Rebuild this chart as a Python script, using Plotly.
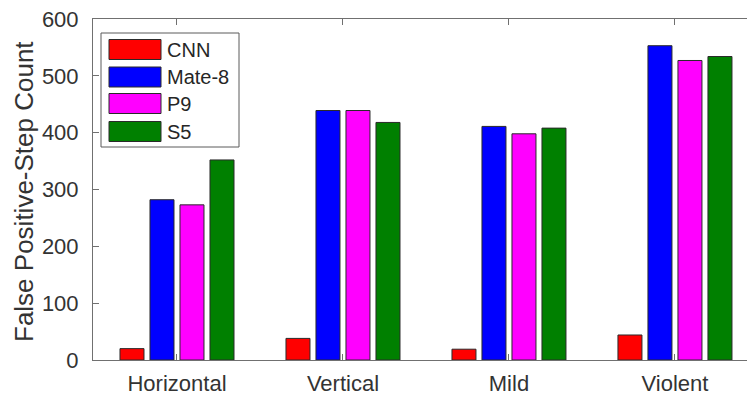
import plotly.graph_objects as go

categories = ["Horizontal", "Vertical", "Mild", "Violent"]
series_names = ["CNN", "Mate-8", "P9", "S5"]
cnn = [20, 38, 19, 44]
mate8 = [282, 439, 411, 553]
p9 = [273, 439, 398, 527]
s5 = [352, 418, 408, 534]
y_ticks = [0, 100, 200, 300, 400, 500, 600]
y_title = "False Positive-Step Count"
colors = ["#FF0000", "#0000FF", "#FF00FF", "#008000"]

series_values = [cnn, mate8, p9, s5]

fig = go.Figure()
for name, vals, col in zip(series_names, series_values, colors):
    fig.add_trace(go.Bar(
        x=categories, y=vals, name=name,
        marker=dict(color=col, line=dict(color="#2a2a2a", width=1)),
        showlegend=False, hoverinfo="skip",
    ))

W, H = 747, 396
L, R, T, B = 93, 0, 19, 36
pw, ph = W - L - R, H - T - B

def px(x):
    return (x - L) / pw

def py(y):
    return (H - B - y) / ph

# custom legend (MATLAB style)
shapes = [dict(type="rect", xref="paper", yref="paper",
               x0=px(101), x1=px(239), y0=py(147), y1=py(33),
               line=dict(color="#5a5a5a", width=1), fillcolor="white", layer="above")]
annotations = []
centers = [49.5, 77, 103.5, 131.5]
for name, col, cy in zip(series_names, colors, centers):
    shapes.append(dict(type="rect", xref="paper", yref="paper",
                       x0=px(109), x1=px(161), y0=py(cy + 10), y1=py(cy - 10),
                       line=dict(color="#2a2a2a", width=1), fillcolor=col, layer="above"))
    annotations.append(dict(xref="paper", yref="paper", x=px(165), y=py(cy),
                            text=name, showarrow=False, xanchor="left", yanchor="middle",
                            font=dict(family="Liberation Sans, Arial", size=20, color="#262626")))

# y-axis title
annotations.append(dict(xref="paper", yref="paper", x=px(24), y=py(192),
                        text=y_title, showarrow=False, textangle=-90,
                        xanchor="center", yanchor="middle",
                        font=dict(family="Liberation Sans, Arial", size=26, color="#333333")))

fig.update_layout(
    width=W, height=H,
    margin=dict(l=L, r=R, t=T, b=B, pad=0, autoexpand=False),
    paper_bgcolor="white", plot_bgcolor="white",
    barmode="group", bargap=0.277, bargroupgap=0.2,
    font=dict(family="Liberation Sans, Arial", size=22, color="#333333"),
    shapes=shapes, annotations=annotations,
    xaxis=dict(
        type="category", range=[-0.506, 3.434],
        showline=True, linecolor="#707070", linewidth=1, mirror="ticks",
        ticks="inside", ticklen=6, tickcolor="#707070",
        showgrid=False, zeroline=False, automargin=False,
        tickfont=dict(size=22, color="#333333"),
        ticklabelstandoff=4,
    ),
    yaxis=dict(
        range=[0, 600], tickvals=y_ticks,
        showline=True, linecolor="#707070", linewidth=1, mirror=False,
        ticks="inside", ticklen=6, tickcolor="#707070",
        showgrid=False, zeroline=False, automargin=False,
        tickfont=dict(size=22, color="#333333"),
        ticklabelstandoff=9,
    ),
)

fig.write_html("out.html", config={"displayModeBar": False, "staticPlot": True},
               post_script="document.body.style.margin='0';document.body.style.overflow='hidden';")
